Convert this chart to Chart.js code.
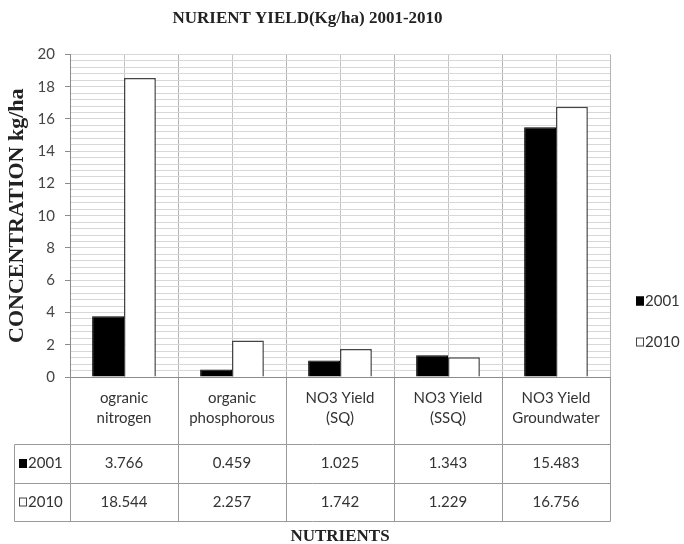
<!DOCTYPE html>
<html>
<head>
<meta charset="utf-8">
<script src="https://cdn.jsdelivr.net/npm/chart.js@4.4.1/dist/chart.umd.min.js"></script>
<style>
  html, body { margin: 0; padding: 0; background: #fff; }
  #wrap { width: 684px; height: 544px; }
</style>
</head>
<body>
<div id="wrap"><canvas id="c" width="684" height="544"></canvas></div>
<script>
// Nutrient yield per category, two survey years
const categories = [
  ["ogranic", "nitrogen"],
  ["organic", "phosphorous"],
  ["NO3 Yield", "(SQ)"],
  ["NO3 Yield", "(SSQ)"],
  ["NO3 Yield", "Groundwater"]
];
const seriesNames = ["2001", "2010"];
const values2001 = [3.766, 0.459, 1.025, 1.343, 15.483];
const values2010 = [18.544, 2.257, 1.742, 1.229, 16.756];
const yMin = 0, yMax = 20, yMajorStep = 2, yMinorStep = 0.4;

const chartTitle = "NURIENT YIELD(Kg/ha) 2001-2010";
const yTitle = "CONCENTRATION kg/ha";
const xTitle = "NUTRIENTS";

const sansFont = "Lato, 'Open Sans', sans-serif";
const serifFont = "'Liberation Serif', 'DejaVu Serif', serif";
const textColor = "#333";
const lineColor = "#9a9a9a";

// Table row boundaries, measured down from the bottom of the plot area
const rowLabelsBottom = 67;
const row1Bottom = 106;
const row2Bottom = 144;
const tableLeft = 14;

const seriesStyle = [
  { fill: "#000000", border: "#000000" },
  { fill: "#ffffff", border: "#444444" }
];

// Draws the data table under the plot and the legend on the right
const dataTablePlugin = {
  id: "dataTable",
  afterDraw(chart) {
    const { ctx, chartArea } = chart;
    const x = chart.scales.x;
    const n = categories.length;
    const half = (x.getPixelForValue(1) - x.getPixelForValue(0)) / 2;
    const top = chartArea.bottom;
    const yLab = top + rowLabelsBottom;
    const yR1 = top + row1Bottom;
    const yR2 = top + row2Bottom;

    ctx.save();
    ctx.strokeStyle = lineColor;
    ctx.lineWidth = 1;
    const line = (x1, y1, x2, y2) => {
      ctx.beginPath();
      ctx.moveTo(Math.round(x1) + 0.5, Math.round(y1) + 0.5);
      ctx.lineTo(Math.round(x2) + 0.5, Math.round(y2) + 0.5);
      ctx.stroke();
    };
    // horizontal rules
    line(tableLeft, yLab, chartArea.right, yLab);
    line(tableLeft, yR1, chartArea.right, yR1);
    line(tableLeft, yR2, chartArea.right, yR2);
    // vertical rules
    line(tableLeft, yLab, tableLeft, yR2);
    for (let i = 0; i < n; i++) {
      line(x.getPixelForValue(i) - half, top, x.getPixelForValue(i) - half, yR2);
    }
    line(x.getPixelForValue(n - 1) + half, top, x.getPixelForValue(n - 1) + half, yR2);

    // series rows
    const rows = [values2001, values2010];
    const rowCenters = [(yLab + yR1) / 2, (yR1 + yR2) / 2];
    ctx.font = "15px " + sansFont;
    ctx.fillStyle = textColor;
    ctx.textBaseline = "middle";
    rows.forEach((vals, r) => {
      const cy = rowCenters[r];
      // legend key + series name
      ctx.fillStyle = seriesStyle[r].fill;
      ctx.fillRect(19, cy - 4.5, 8, 9);
      ctx.strokeStyle = seriesStyle[r].border;
      ctx.strokeRect(19.5, cy - 4, 7, 8);
      ctx.fillStyle = textColor;
      ctx.textAlign = "left";
      ctx.fillText(seriesNames[r], 28, cy);
      ctx.textAlign = "center";
      vals.forEach((v, i) => {
        ctx.fillText(v.toFixed(3), x.getPixelForValue(i), cy);
      });
    });

    // legend at the right
    const legendY = [301, 342];
    seriesNames.forEach((name, r) => {
      const cy = legendY[r];
      ctx.fillStyle = seriesStyle[r].fill;
      ctx.fillRect(636, cy - 4.5, 8, 9);
      ctx.strokeStyle = seriesStyle[r].border;
      ctx.strokeRect(636.5, cy - 4, 7, 8);
      ctx.fillStyle = textColor;
      ctx.textAlign = "left";
      ctx.fillText(name, 645, cy);
    });
    ctx.restore();
  }
};

new Chart(document.getElementById("c"), {
  type: "bar",
  data: {
    labels: categories,
    datasets: [
      {
        label: seriesNames[0],
        data: values2001,
        backgroundColor: seriesStyle[0].fill,
        borderColor: seriesStyle[0].border,
        borderWidth: 1,
        xAxisID: "x",
        yAxisID: "y"
      },
      {
        label: seriesNames[1],
        data: values2010,
        backgroundColor: seriesStyle[1].fill,
        borderColor: seriesStyle[1].border,
        borderWidth: 1.5,
        xAxisID: "x",
        yAxisID: "y"
      }
    ]
  },
  options: {
    responsive: false,
    animation: false,
    devicePixelRatio: 1,
    categoryPercentage: 0.59,
    barPercentage: 1.0,
    layout: { padding: { left: 5, right: 74, top: 0, bottom: 0 } },
    plugins: {
      legend: { display: false },
      tooltip: { enabled: false },
      title: {
        display: true,
        text: chartTitle,
        color: "#222",
        font: { family: serifFont, size: 17, weight: "bold" },
        padding: { top: 8, bottom: 26 }
      }
    },
    scales: {
      x: {
        type: "category",
        position: "bottom",
        offset: true,
        grid: { offset: true, color: "#b4b4b4", drawTicks: false },
        border: { color: "#8c8c8c" },
        ticks: {
          color: textColor,
          font: { family: sansFont, size: 15, lineHeight: 1.33 },
          padding: 11,
          autoSkip: false,
          maxRotation: 0
        },
        title: {
          display: true,
          text: xTitle,
          color: "#222",
          font: { family: serifFont, size: 17, weight: "bold", lineHeight: 1 },
          padding: { top: 0, bottom: -1 }
        },
        afterFit(scale) { scale.height = 167; }
      },
      xMid: {
        type: "category",
        position: "bottom",
        offset: true,
        grid: { offset: false, color: "#c4c4c4", drawTicks: false },
        border: { display: false },
        ticks: { display: false },
        afterFit(scale) { scale.height = 0; }
      },
      y: {
        type: "linear",
        position: "left",
        min: yMin,
        max: yMax,
        ticks: {
          stepSize: yMajorStep,
          color: "#444",
          font: { family: sansFont, size: 15 },
          padding: 10
        },
        grid: { color: "#c8c8c8", drawTicks: true, tickLength: 5, tickColor: "#8c8c8c" },
        border: { color: "#8c8c8c" },
        title: {
          display: true,
          text: yTitle,
          color: "#222",
          font: { family: serifFont, size: 22, weight: "bold", lineHeight: 1.1 },
          padding: { top: 0, bottom: 0 }
        },
        afterFit(scale) { scale.width = 65; }
      },
      yMinor: {
        type: "linear",
        position: "left",
        min: yMin,
        max: yMax,
        ticks: { display: false, stepSize: yMinorStep, maxTicksLimit: 100 },
        grid: { color: "#d8d8d8", drawTicks: false },
        border: { display: false },
        afterFit(scale) { scale.width = 0; }
      }
    }
  },
  plugins: [dataTablePlugin]
});
</script>
</body>
</html>
